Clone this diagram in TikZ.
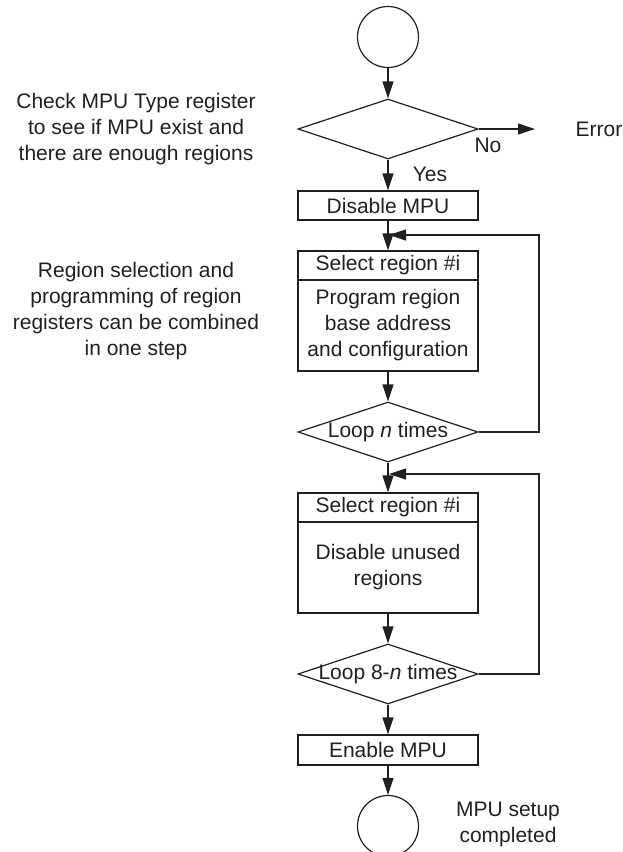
\documentclass[tikz,border=0pt]{standalone}
\usepackage{fontspec}
\setmainfont{Liberation Sans}
\usetikzlibrary{shapes.geometric,arrows.meta}
\definecolor{ink}{HTML}{231F20}
\begin{document}
\begin{tikzpicture}[x=1pt,y=-1pt,
  every node/.style={font=\fontsize{21}{26}\selectfont, text=ink},
  ln/.style={draw=ink, line width=1.2pt},
  arr/.style={ln, -{Triangle[length=17pt,width=11pt]}},
  box/.style={ln, rectangle, minimum width=180pt, inner sep=0pt},
  dia/.style={ln, diamond, minimum width=180pt, minimum height=60pt, inner sep=0pt},
  term/.style={ln, circle, minimum size=61pt, inner sep=0pt},
  note/.style={align=center, inner sep=0pt}]
\useasboundingbox (0,0) rectangle (623,852);

\node[term] (c1) at (388,37) {};
\node[dia] (d0) at (388,129) {};
\node[box, minimum height=29pt] (dis) at (388,205.5) {Disable MPU};
\node[box, minimum height=29pt] (s1) at (388,265.5) {Select region \#i};
\node[box, minimum height=91pt, align=center] (b1) at (388,325.5) {Program region\\base address\\and configuration};
\node[dia, label={center:Loop \textit{n} times}] (d1) at (388,432) {};
\node[box, minimum height=29pt] (s2) at (388,507.5) {Select region \#i};
\node[box, minimum height=91pt, align=center] (b2) at (388,567.5) {Disable unused\\regions};
\node[dia, label={center:Loop 8-\textit{n} times}] (d2) at (388,674) {};
\node[box, minimum height=30pt] (en) at (388,750) {Enable MPU};
\node[term] (c2) at (388,826) {};

\coordinate (err) at (535,129);
\coordinate (r1) at (539,235);
\coordinate (j1) at (389,235);
\coordinate (r2) at (539,474);
\coordinate (j2) at (389,474);

\node[inner sep=0pt] (errt) at (599,129) {Error};
\node[inner sep=0pt] (no) at (488,145) {No};
\node[inner sep=0pt] (yes) at (430,174) {Yes};
\node[note] (n1) at (136,129) {Check MPU Type register\\to see if MPU exist and\\there are enough regions};
\node[note] (n2) at (136,311) {Region selection and\\programming of region\\registers can be combined\\in one step};
\node[note] (n3) at (508,824.5) {MPU setup\\completed};

\draw[arr] (c1) -- (d0);
\draw[arr] (d0.east) -- (err);
\draw[arr] (d0) -- (dis);
\draw[arr] (dis) -- (s1);
\draw[arr] (b1) -- (d1);
\draw[arr] (d1.east) -| (r1) -- (j1);
\draw[arr] (d1) -- (s2);
\draw[arr] (b2) -- (d2);
\draw[arr] (d2.east) -| (r2) -- (j2);
\draw[arr] (d2) -- (en);
\draw[arr] (en) -- (c2);
\end{tikzpicture}
\end{document}
